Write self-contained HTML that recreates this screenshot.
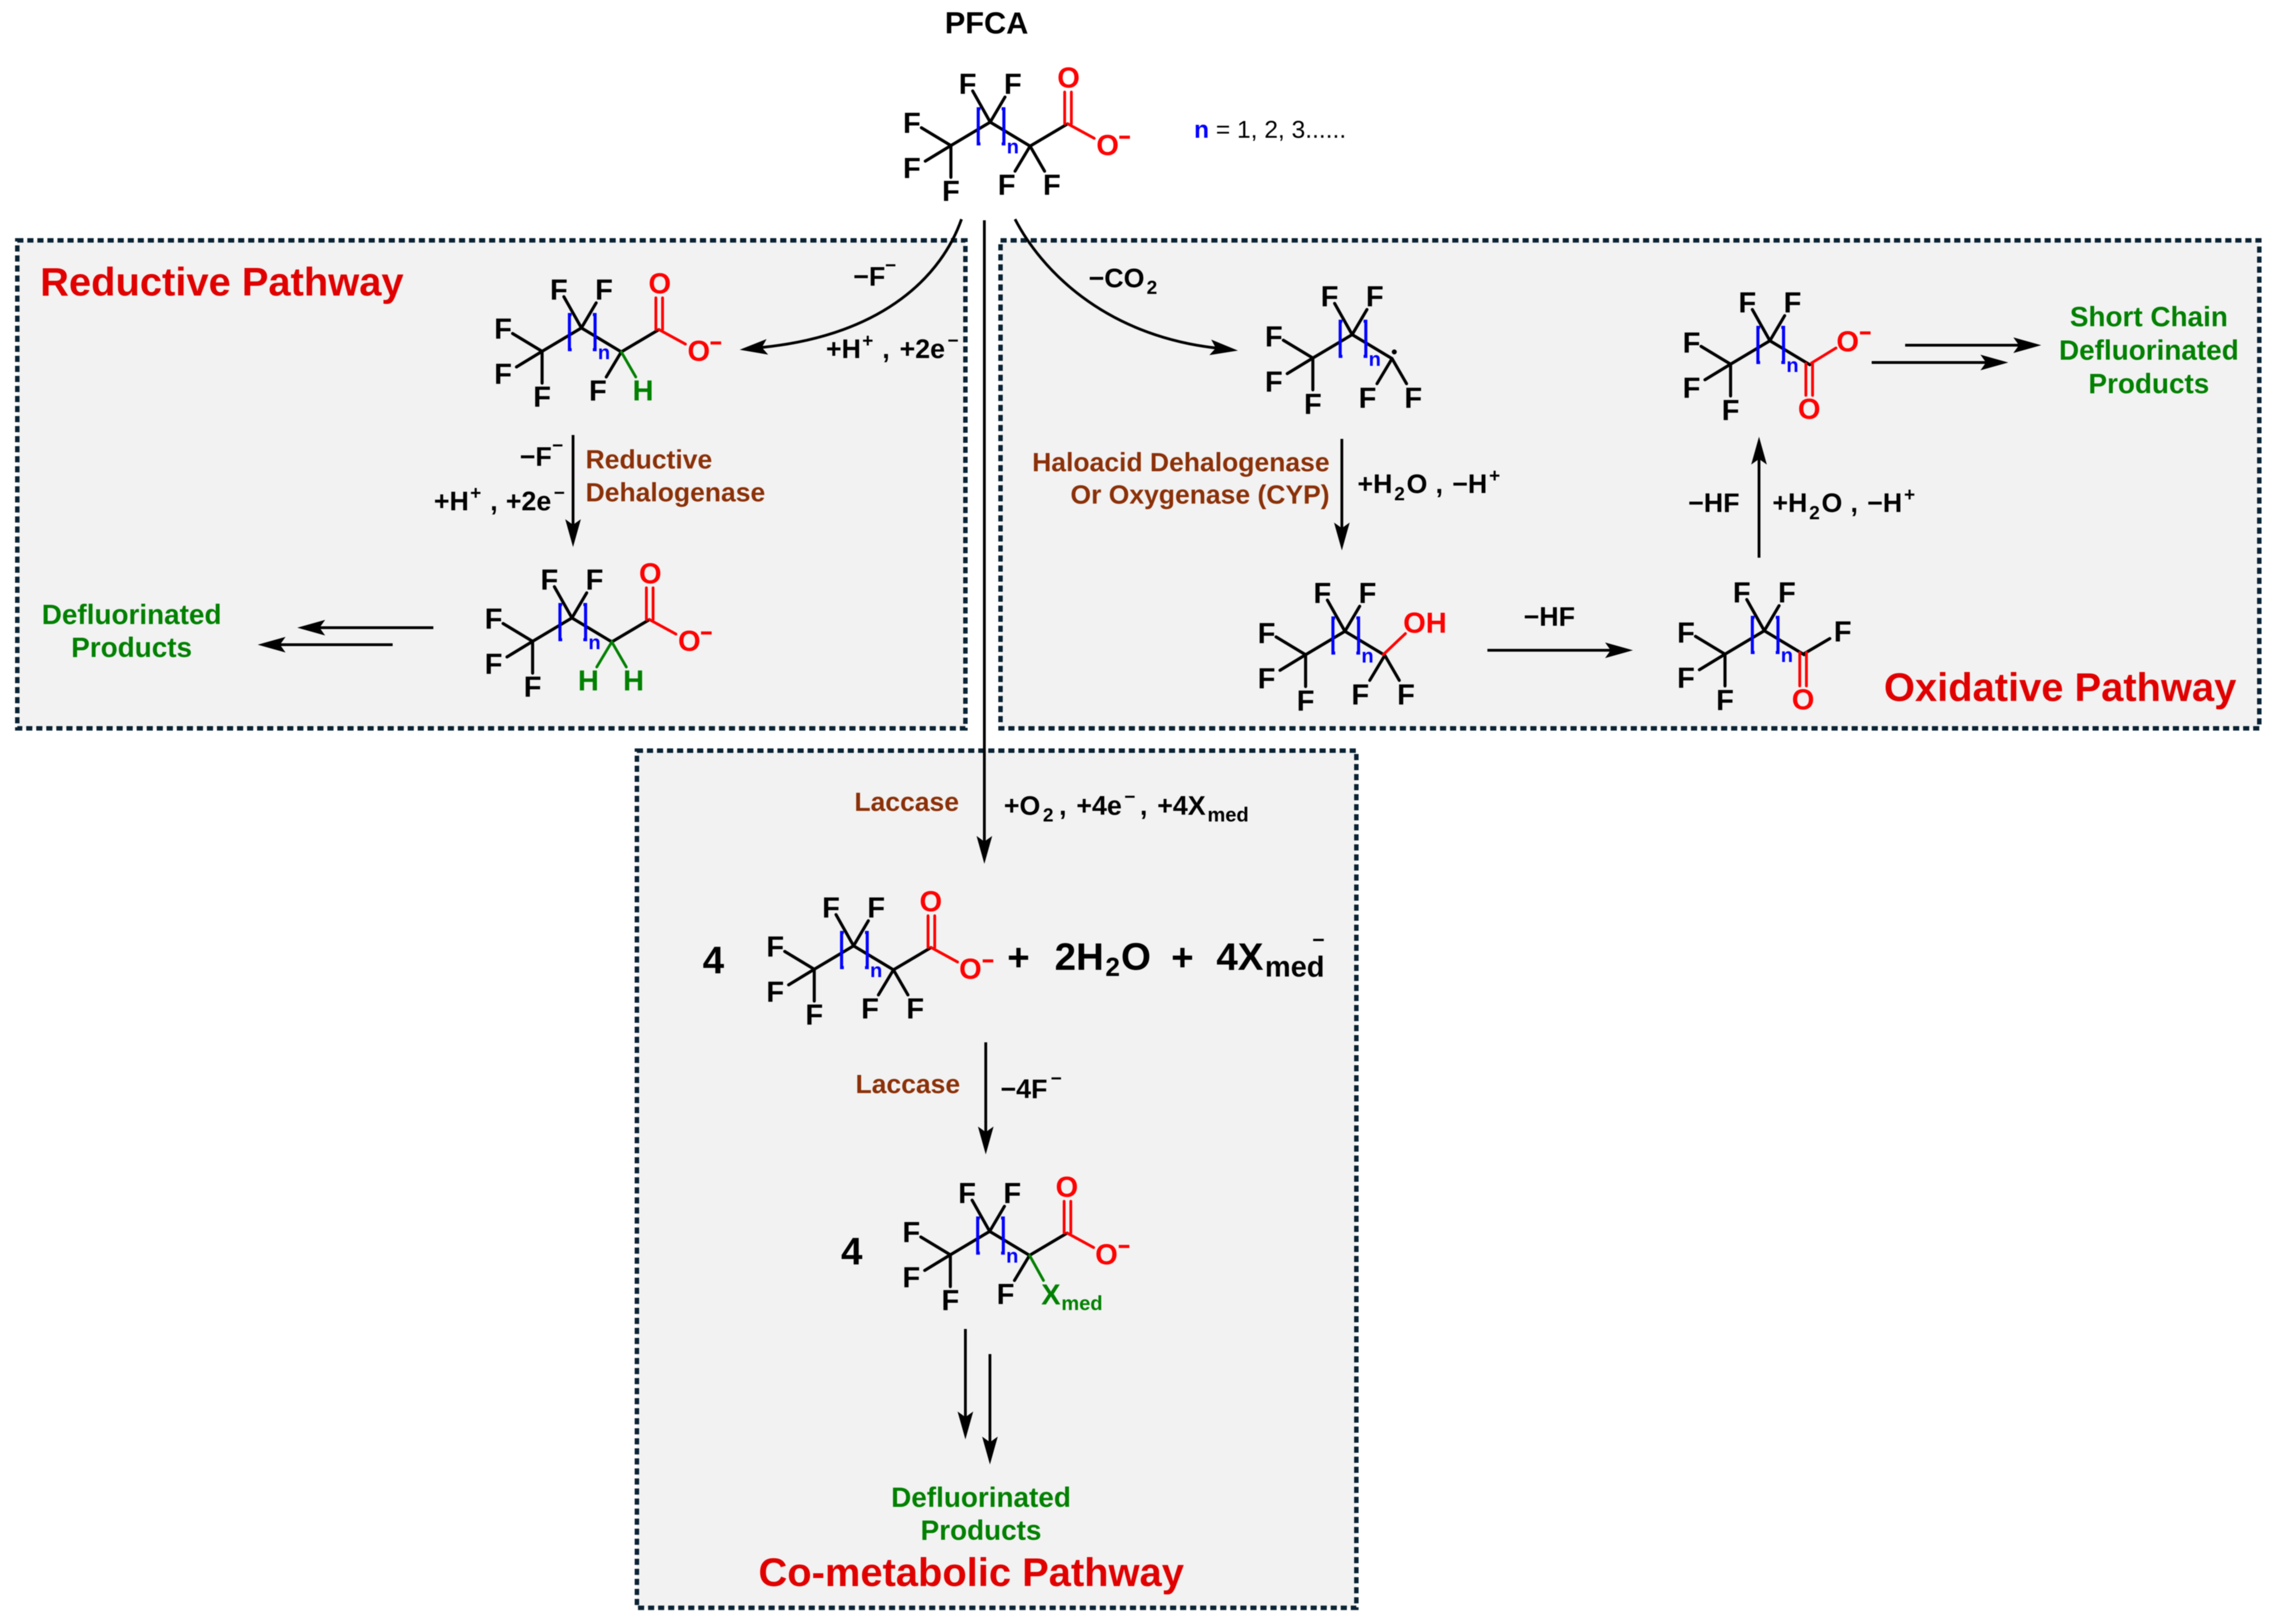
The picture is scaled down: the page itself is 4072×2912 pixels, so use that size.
<!DOCTYPE html>
<html><head><meta charset="utf-8"><style>
html,body{margin:0;padding:0;background:#fff}
svg{display:block;filter:blur(0.8px)}
text{font-family:"Liberation Sans",Arial,sans-serif;font-weight:bold;fill:#000}
.f{font-size:52px;text-anchor:middle}
.n{font-size:36px;fill:#00f;text-anchor:middle}
.o{font-size:52px;fill:#f00;text-anchor:middle}
.g{font-size:52px;fill:#008000;text-anchor:middle}
.l{font-size:48px}
.s{font-size:34px}
.br{font-size:47.5px;fill:#8b3008}
.gr{font-size:50px;fill:#008000;text-anchor:middle}
.t{font-size:71.5px;fill:#e00000}
.big{font-size:69px}
.k{fill:none;stroke:#000;stroke-width:5.5px;stroke-linecap:round;stroke-linejoin:round}
.a{fill:none;stroke:#000;stroke-width:5px}
.r{fill:none;stroke:#f00;stroke-width:5px;stroke-linecap:round}
.gb{fill:none;stroke:#008000;stroke-width:5px;stroke-linecap:round}
.bl{fill:none;stroke:#00f;stroke-width:5.5px}
.box{fill:#f2f2f2;stroke:#0a2233;stroke-width:8px;stroke-dasharray:11 7}
</style></head><body>
<svg xmlns="http://www.w3.org/2000/svg" width="4072" height="2912" viewBox="0 0 4072 2912">
<defs>
<marker id="h" markerUnits="userSpaceOnUse" markerWidth="60" markerHeight="32" refX="10" refY="16" orient="auto" overflow="visible"><path d="M0,2L50,16L0,30L10,16Z" fill="#000"/></marker>
<g id="core"><path class="k" d="M-53,-32L0,0L-46,28M0,0V57M0,0L70.5,-42L142,1M39,-98L70.5,-42L97,-87"/><path class="bl" d="M53,-66H49V-3H53M91,-66H95V-3H91"/></g>
<g id="coo"><path class="k" d="M142,1L209.5,-39"/><path class="r" d="M204,-39V-96M216,-39V-96M209.5,-39L257,-13"/><path d="M302,-15H321" stroke="#f00" stroke-width="5.5" fill="none"/></g>
</defs>
<rect width="4072" height="2912" fill="#fff"/>

<rect class="box" x="31" y="431" width="1700" height="875"/>
<rect class="box" x="1794" y="431" width="2257" height="875"/>
<rect class="box" x="1142" y="1346" width="1290" height="1537"/>

<!-- Top structure -->
<text x="1769" y="60" style="font-size:55px;text-anchor:middle">PFCA</text>
<g transform="translate(1705,261)">
<use href="#core"/><use href="#coo"/><path class="k" d="M115,46L142,1L168,46"/>
<text class="f" x="-70" y="-23">F</text><text class="f" x="-70" y="58">F</text><text class="f" x="0" y="99">F</text><text class="f" x="30" y="-93">F</text><text class="f" x="111" y="-93">F</text><text class="f" x="100" y="88">F</text><text class="f" x="181" y="88">F</text>
<text class="n" x="111" y="14">n</text><text class="o" x="211" y="-104">O</text><text class="o" x="281" y="17">O</text>
</g>
<text x="2141" y="247" style="font-size:44px;font-weight:normal"><tspan style="font-weight:bold;fill:#00f">n</tspan> = 1, 2, 3......</text>

<!-- Reductive -->
<text class="t" x="72" y="530">Reductive Pathway</text>
<g transform="translate(972,630)">
<use href="#core"/><use href="#coo"/><path class="k" d="M115,46L142,1"/><path class="gb" d="M142,1L168,46"/>
<text class="f" x="-70" y="-23">F</text><text class="f" x="-70" y="58">F</text><text class="f" x="0" y="99">F</text><text class="f" x="30" y="-93">F</text><text class="f" x="111" y="-93">F</text><text class="f" x="100" y="88">F</text><text class="g" x="181" y="88">H</text>
<text class="n" x="111" y="14">n</text><text class="o" x="211" y="-104">O</text><text class="o" x="281" y="17">O</text>
</g>
<g transform="translate(955,1150)">
<use href="#core"/><use href="#coo"/><path class="gb" d="M115,46L142,1L168,46"/>
<text class="f" x="-70" y="-23">F</text><text class="f" x="-70" y="58">F</text><text class="f" x="0" y="99">F</text><text class="f" x="30" y="-93">F</text><text class="f" x="111" y="-93">F</text><text class="g" x="100" y="88">H</text><text class="g" x="181" y="88">H</text>
<text class="n" x="111" y="14">n</text><text class="o" x="211" y="-104">O</text><text class="o" x="281" y="17">O</text>
</g>
<text class="l" x="1530" y="512">−F<tspan class="s" x="1587" y="487">−</tspan></text>
<text class="l" x="1481" y="642">+H<tspan class="s" x="1546" y="622">+</tspan><tspan x="1582" y="642">,</tspan><tspan x="1613" y="642">+2e</tspan><tspan class="s" x="1699" y="622">−</tspan></text>
<text class="l" x="932" y="835">−F<tspan class="s" x="990" y="810">−</tspan></text>
<text class="l" x="778" y="915">+H<tspan class="s" x="843" y="895">+</tspan><tspan x="879" y="915">,</tspan><tspan x="907" y="915">+2e</tspan><tspan class="s" x="993" y="895">−</tspan></text>
<text class="br" x="1050" y="840">Reductive</text>
<text class="br" x="1050" y="899">Dehalogenase</text>
<text class="gr" x="236" y="1119">Defluorinated</text>
<text class="gr" x="236" y="1178">Products</text>
<path class="a" d="M1027.5,780V941" marker-end="url(#h)"/>
<path class="a" d="M777,1125.5H573" stroke-width="6" marker-end="url(#h)"/>
<path class="a" d="M704,1156H502" stroke-width="6" marker-end="url(#h)"/>

<!-- Oxidative -->
<g transform="translate(2354,642)">
<use href="#core"/><path class="k" d="M142,1L168,46M142,1L115,46"/><circle cx="146" cy="-11" r="4.5"/>
<text class="f" x="-70" y="-21">F</text><text class="f" x="-70" y="60">F</text><text class="f" x="0" y="100">F</text><text class="f" x="30" y="-93">F</text><text class="f" x="111" y="-93">F</text><text class="f" x="98" y="89">F</text><text class="f" x="180" y="89">F</text>
<text class="n" x="111" y="14">n</text>
</g>
<g transform="translate(2341,1174)">
<use href="#core"/><path class="k" d="M142,1L168,46M142,1L115,46"/><path class="r" d="M139,0L179,-38"/>
<text class="f" x="-70" y="-21">F</text><text class="f" x="-70" y="60">F</text><text class="f" x="0" y="100">F</text><text class="f" x="30" y="-93">F</text><text class="f" x="111" y="-93">F</text><text class="f" x="98" y="89">F</text><text class="f" x="180" y="89">F</text>
<text class="n" x="111" y="14">n</text><text class="o" x="214" y="-39.5">OH</text>
</g>
<g transform="translate(3093,1173)">
<use href="#core"/><path class="k" d="M142,-1L188,-28"/><path class="r" d="M134,-3V57M146,-3V57"/>
<text class="f" x="-70" y="-21">F</text><text class="f" x="-70" y="60">F</text><text class="f" x="0" y="100">F</text><text class="f" x="30" y="-93">F</text><text class="f" x="111" y="-93">F</text><text class="f" x="211" y="-23">F</text>
<text class="n" x="111" y="14">n</text><text class="o" x="140" y="99">O</text>
</g>
<g transform="translate(3103,653)">
<use href="#core"/><path class="r" d="M145,-2L189,-29M135,-1V56M147,-1V56"/><path d="M232,-56H251" stroke="#f00" stroke-width="5.5" fill="none"/>
<text class="f" x="-70" y="-21">F</text><text class="f" x="-70" y="60">F</text><text class="f" x="0" y="100">F</text><text class="f" x="30" y="-93">F</text><text class="f" x="111" y="-93">F</text>
<text class="n" x="111" y="14">n</text><text class="o" x="210" y="-23">O</text><text class="o" x="141" y="98">O</text>
</g>
<text class="l" x="1952" y="515">−CO<tspan class="s" x="2056" y="527">2</tspan></text>
<text class="br" x="2384" y="845" text-anchor="end">Haloacid Dehalogenase</text>
<text class="br" x="2384" y="903" text-anchor="end">Or Oxygenase (CYP)</text>
<text class="l" x="2434" y="884">+H<tspan class="s" x="2500" y="897">2</tspan><tspan x="2522" y="884">O</tspan><tspan x="2574" y="884">,</tspan><tspan x="2604" y="884">−H</tspan><tspan class="s" x="2670" y="864">+</tspan></text>
<text class="l" x="2732" y="1122">−HF</text>
<text class="l" x="3027" y="918">−HF</text>
<text class="l" x="3178" y="918">+H<tspan class="s" x="3244" y="931">2</tspan><tspan x="3266" y="918">O</tspan><tspan x="3318" y="918">,</tspan><tspan x="3348" y="918">−H</tspan><tspan class="s" x="3414" y="898">+</tspan></text>
<text class="gr" x="3853" y="585">Short Chain</text>
<text class="gr" x="3853" y="645">Defluorinated</text>
<text class="gr" x="3853" y="705">Products</text>
<text class="t" x="3378" y="1257">Oxidative Pathway</text>
<path class="a" d="M2406,787V947" marker-end="url(#h)"/>
<path class="a" d="M2667,1166H2888" stroke-width="6" marker-end="url(#h)"/>
<path class="a" d="M3154,1000V823" marker-end="url(#h)"/>
<path class="a" d="M3416,619H3620" stroke-width="6" marker-end="url(#h)"/>
<path class="a" d="M3356,650H3561" stroke-width="6" marker-end="url(#h)"/>

<!-- Curved + main arrows -->
<path class="a" d="M1724,393C1690,490 1590,600 1366,623" marker-end="url(#h)"/>
<path class="a" d="M1820,393C1865,480 1975,600 2180,624" marker-end="url(#h)"/>
<path class="a" d="M1765,395V1509" stroke-width="6" marker-end="url(#h)"/>

<!-- Co-metabolic -->
<g transform="translate(1460,1738)">
<use href="#core"/><use href="#coo"/><path class="k" d="M115,46L142,1L168,46"/>
<text class="f" x="-70" y="-23">F</text><text class="f" x="-70" y="58">F</text><text class="f" x="0" y="99">F</text><text class="f" x="30" y="-93">F</text><text class="f" x="111" y="-93">F</text><text class="f" x="100" y="88">F</text><text class="f" x="181" y="88">F</text>
<text class="n" x="111" y="14">n</text><text class="o" x="209" y="-104">O</text><text class="o" x="280" y="17">O</text>
</g>
<text class="br" x="1532" y="1454">Laccase</text>
<text class="l" x="1800" y="1461">+O<tspan class="s" x="1870" y="1473">2</tspan><tspan x="1899" y="1461">,</tspan><tspan x="1930" y="1461">+4e</tspan><tspan class="s" x="2016" y="1440">−</tspan><tspan x="2044" y="1461">,</tspan><tspan x="2075" y="1461">+4X</tspan><tspan style="font-size:36px" x="2165" y="1473">med</tspan></text>
<text class="big" x="1260" y="1745">4</text>
<text class="big" x="1806" y="1740">+</text>
<text class="big" x="1891" y="1739">2H<tspan style="font-size:47px" x="1982" y="1750">2</tspan><tspan x="2010" y="1739">O</tspan></text>
<text class="big" x="2100" y="1740">+</text>
<text class="big" x="2181" y="1739">4X<tspan style="font-size:52px" x="2268" y="1751">med</tspan></text>
<text x="2353" y="1698" style="font-size:38px">−</text>
<text class="br" x="1534" y="1960">Laccase</text>
<text class="l" x="1794" y="1969">−4F<tspan class="s" x="1884" y="1945">−</tspan></text>
<path class="a" d="M1767.5,1869V2030" marker-end="url(#h)"/>
<g transform="translate(1704,2250)">
<use href="#core"/><use href="#coo"/><path class="k" d="M115,46L142,1"/><path class="gb" d="M142,1L167,46"/>
<text class="f" x="-70" y="-23">F</text><text class="f" x="-70" y="58">F</text><text class="f" x="0" y="99">F</text><text class="f" x="30" y="-93">F</text><text class="f" x="111" y="-93">F</text><text class="f" x="99" y="88">F</text>
<text class="n" x="111" y="14">n</text><text class="o" x="209" y="-104">O</text><text class="o" x="280" y="17">O</text>
<text style="font-size:52px;fill:#008000" x="163" y="89">X</text><text style="font-size:36px;fill:#008000" x="199" y="99">med</text>
</g>
<text class="big" x="1508" y="2267">4</text>
<path class="a" d="M1731,2383V2541" marker-end="url(#h)"/>
<path class="a" d="M1775,2428V2586" marker-end="url(#h)"/>
<text class="gr" x="1759" y="2702">Defluorinated</text>
<text class="gr" x="1759" y="2761">Products</text>
<text class="t" x="1360" y="2844">Co-metabolic Pathway</text>
</svg>
</body></html>
